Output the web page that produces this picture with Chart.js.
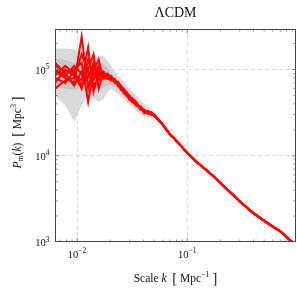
<!DOCTYPE html>
<html>
<head>
<meta charset="utf-8">
<script src="https://cdn.jsdelivr.net/npm/chart.js@4/dist/chart.umd.min.js"></script>
<style>
    html, body { margin: 0; padding: 0; background: #fff; }
    #wrap { width: 297px; height: 291px; }
</style>
</head>
<body>
<div id="wrap"><canvas id="chart"></canvas></div>
<script>
/* =======================
   DATA (P in units of 10^3 Mpc^3)
======================= */

// low-k bins, where the realisations scatter
const kLow = [0.0063, 0.0078, 0.0094, 0.011, 0.0126, 0.0141, 0.0157, 0.0173, 0.0188, 0.0204, 0.022, 0.0236,
              0.0251, 0.0267, 0.0283, 0.0298, 0.0314, 0.0345, 0.0377, 0.0408, 0.044, 0.0471, 0.0503, 0.055];

const realisations = [
    [95, 80, 70, 240, 60, 110, 95, 88, 85, 78, 72, 70, 60, 55, 54, 46, 46, 41, 35, 33, 31, 32, 30, 26],
    [70, 100, 85, 75, 180, 55, 90, 80, 86, 82, 76, 64, 64, 58, 50, 49, 44, 38, 37, 32, 33, 30, 29, 26],
    [110, 95, 100, 120, 42, 95, 130, 78, 80, 84, 70, 72, 58, 56, 53, 45, 47, 42, 34, 34, 31, 31.5, 29.5, 26],
    [80, 70, 95, 65, 100, 150, 60, 92, 78, 76, 78, 66, 63, 52, 51, 50, 43, 39, 37, 31, 32.5, 30.5, 30, 26],
    [100, 85, 110, 90, 70, 75, 100, 86, 88, 80, 71, 67, 61, 60, 49, 47, 45, 40, 36, 33.5, 31.5, 31, 29, 26],
    [60, 75, 80, 150, 95, 65, 80, 95, 82, 74, 75, 69, 65, 55, 52, 48, 42, 41, 35.5, 32, 32, 30, 29.5, 26],
    [120, 90, 65, 95, 80, 120, 75, 82, 90, 82, 73, 65, 59, 57, 54, 46, 46, 38, 36.5, 34, 31, 31, 30, 26],
    [85, 110, 90, 60, 130, 85, 110, 84, 79, 79, 74, 70, 62, 58, 52, 50, 44, 40.5, 35, 32.5, 33, 30.5, 29, 26]
];

// high-k part, identical for all realisations
const kTail = [0.06, 0.065, 0.07, 0.075, 0.08, 0.09, 0.1, 0.12, 0.14, 0.17, 0.2, 0.25, 0.3, 0.35, 0.4, 0.5, 0.6, 0.7, 0.8, 0.9, 1.0];
const pTail = [23, 20, 17.6, 16.3, 14.8, 12.6, 10.8, 8.6, 7.3, 5.9, 4.85, 3.7, 2.96, 2.5, 2.16, 1.76, 1.51, 1.33, 1.14, 0.995, 0.89];

// variance bands (on kLow)
const outerHi = [175, 175, 172, 160, 140, 135, 145, 143, 128, 110, 95, 85, 78, 72, 66, 61, 57, 50, 44, 40, 37, 35, 32, 27];
const outerLo = [50, 38, 25, 38, 50, 46, 42, 45, 55, 60, 56, 52, 48, 45, 42, 39, 37, 33, 30, 28.5, 28, 27.5, 27, 25];
const innerHi = [135, 130, 120, 115, 105, 110, 120, 118, 105, 92, 82, 75, 70, 64, 59, 55, 51, 45, 40, 36.5, 34.5, 33, 31, 26.5];
const innerLo = [62, 60, 58, 62, 65, 62, 60, 62, 66, 66, 63, 58, 54, 50, 46.5, 43, 40.5, 36, 33, 31, 30, 29, 28, 25.5];

const xTicks = [0.01, 0.1];
const yTicks = [1e3, 1e4, 1e5];

/* =======================
   HELPERS
======================= */

const SERIF = '"Liberation Serif", "DejaVu Serif", serif';
const pts = (ks, ps) => ks.map((k, i) => ({ x: k, y: ps[i] * 1000 }));

// draw a row of text runs (font, vertical shift) centred or right aligned at x
function drawRuns(ctx, runs, x, y, align) {
    let w = 0;
    runs.forEach(r => { ctx.font = r.font; r.w = ctx.measureText(r.t).width; w += r.w; });
    let cx = align === 'right' ? x - w : x - w / 2;
    ctx.textAlign = 'left';
    ctx.textBaseline = 'alphabetic';
    runs.forEach(r => {
        ctx.font = r.font;
        ctx.fillText(r.t, cx, y + (r.dy || 0));
        cx += r.w;
    });
}

const f = (size, style) => (style ? style + ' ' : '') + size + 'px ' + SERIF;
const pow10 = (exp) => [{ t: '10', font: f(10.5) }, { t: exp, font: f(7.5), dy: -4.5 }];

const decor = {
    id: 'decor',
    afterDraw(chart) {
        const { ctx, chartArea: a, scales } = chart;
        const xs = scales.x, ys = scales.y;
        ctx.save();

        // frame
        ctx.strokeStyle = '#444';
        ctx.lineWidth = 1;
        ctx.strokeRect(a.left + 0.5, a.top + 0.5, a.right - a.left - 1, a.bottom - a.top - 1);

        // inside ticks on all four sides
        ctx.strokeStyle = '#666';
        ctx.lineWidth = 0.8;
        ctx.beginPath();
        for (let d = -3; d <= 0; d++) {
            for (let m = 1; m <= 9; m++) {
                const v = m * Math.pow(10, d);
                const len = m === 1 ? 4 : 2.5;
                const px = xs.getPixelForValue(v);
                if (px > a.left + 1 && px < a.right - 1) {
                    ctx.moveTo(px, a.bottom); ctx.lineTo(px, a.bottom - len);
                    ctx.moveTo(px, a.top); ctx.lineTo(px, a.top + len);
                }
            }
        }
        for (let d = 3; d <= 5; d++) {
            for (let m = 1; m <= 9; m++) {
                const v = m * Math.pow(10, d);
                const len = m === 1 ? 4 : 2.5;
                const py = ys.getPixelForValue(v);
                if (py > a.top + 1 && py < a.bottom - 1) {
                    ctx.moveTo(a.left, py); ctx.lineTo(a.left + len, py);
                    ctx.moveTo(a.right, py); ctx.lineTo(a.right - len, py);
                }
            }
        }
        ctx.stroke();

        // tick labels
        ctx.fillStyle = '#111';
        xTicks.forEach(v => {
            drawRuns(ctx, pow10('\u2212' + Math.round(-Math.log10(v))), xs.getPixelForValue(v), 257.5, 'center');
        });
        yTicks.forEach(v => {
            drawRuns(ctx, pow10(String(Math.round(Math.log10(v)))), 49.5, ys.getPixelForValue(v) + 4, 'right');
        });

        // title
        drawRuns(ctx, [{ t: '\u039BCDM', font: f(14) }], (a.left + a.right) / 2, 16.5, 'center');

        // x axis title
        drawRuns(ctx, [
            { t: 'Scale ', font: f(11.5) },
            { t: 'k', font: f(11.5, 'italic') },
            { t: '  ', font: f(11.5) },
            { t: '[', font: f(14.5), dy: 1 },
            { t: ' Mpc', font: f(11.5) },
            { t: '\u22121', font: f(8), dy: -5 },
            { t: ' ', font: f(11.5) },
            { t: ']', font: f(14.5), dy: 1 }
        ], (a.left + a.right) / 2, 281.5, 'center');

        // y axis title
        ctx.translate(20.5, 132.5);
        ctx.rotate(-Math.PI / 2);
        drawRuns(ctx, [
            { t: 'P', font: f(11.5, 'italic') },
            { t: 'm', font: f(8), dy: 2.5 },
            { t: '(', font: f(11.5) },
            { t: 'k', font: f(11.5, 'italic') },
            { t: ')  ', font: f(11.5) },
            { t: '[', font: f(14.5), dy: 1 },
            { t: ' Mpc', font: f(11.5) },
            { t: '3', font: f(8), dy: -5 },
            { t: ' ', font: f(11.5) },
            { t: ']', font: f(14.5), dy: 1 }
        ], 0, 0, 'center');

        ctx.restore();
    }
};

/* =======================
   DATASETS
======================= */

const datasets = [];

realisations.forEach(r => {
    datasets.push({
        data: pts(kLow, r).concat(pts(kTail, pTail)),
        borderColor: '#ff0000',
        borderWidth: 2,
        fill: false,
        order: 1
    });
});

datasets.push(
    { data: pts(kLow, outerHi), borderWidth: 0, backgroundColor: '#dadada', fill: '+1', order: 3 },
    { data: pts(kLow, outerLo), borderWidth: 0, fill: false, order: 3 },
    { data: pts(kLow, innerHi), borderWidth: 0, backgroundColor: '#c6c6c6', fill: '+1', order: 2 },
    { data: pts(kLow, innerLo), borderWidth: 0, fill: false, order: 2 }
);

new Chart(document.getElementById('chart'), {
    type: 'line',
    data: { datasets },
    options: {
        responsive: true,
        maintainAspectRatio: false,
        animation: false,
        events: [],
        layout: { padding: { top: 29, right: 1, left: 0, bottom: 0 } },
        elements: { point: { radius: 0 }, line: { tension: 0 } },
        plugins: { legend: { display: false }, tooltip: { enabled: false } },
        scales: {
            x: {
                type: 'logarithmic',
                min: 0.0063,
                max: 0.973,
                afterBuildTicks: s => { s.ticks = xTicks.map(v => ({ value: v })); },
                afterFit: s => { s.height = 49; },
                ticks: { display: false },
                grid: { color: '#cfcfcf', lineWidth: 0.8, drawTicks: false },
                border: { display: false, dash: [4, 3] }
            },
            y: {
                type: 'logarithmic',
                min: 1000,
                max: 295000,
                afterBuildTicks: s => { s.ticks = [1e4, 1e5].map(v => ({ value: v })); },
                afterFit: s => { s.width = 55; },
                ticks: { display: false },
                grid: { color: '#cfcfcf', lineWidth: 0.8, drawTicks: false },
                border: { display: false, dash: [4, 3] }
            }
        }
    },
    plugins: [decor]
});
</script>
</body>
</html>
